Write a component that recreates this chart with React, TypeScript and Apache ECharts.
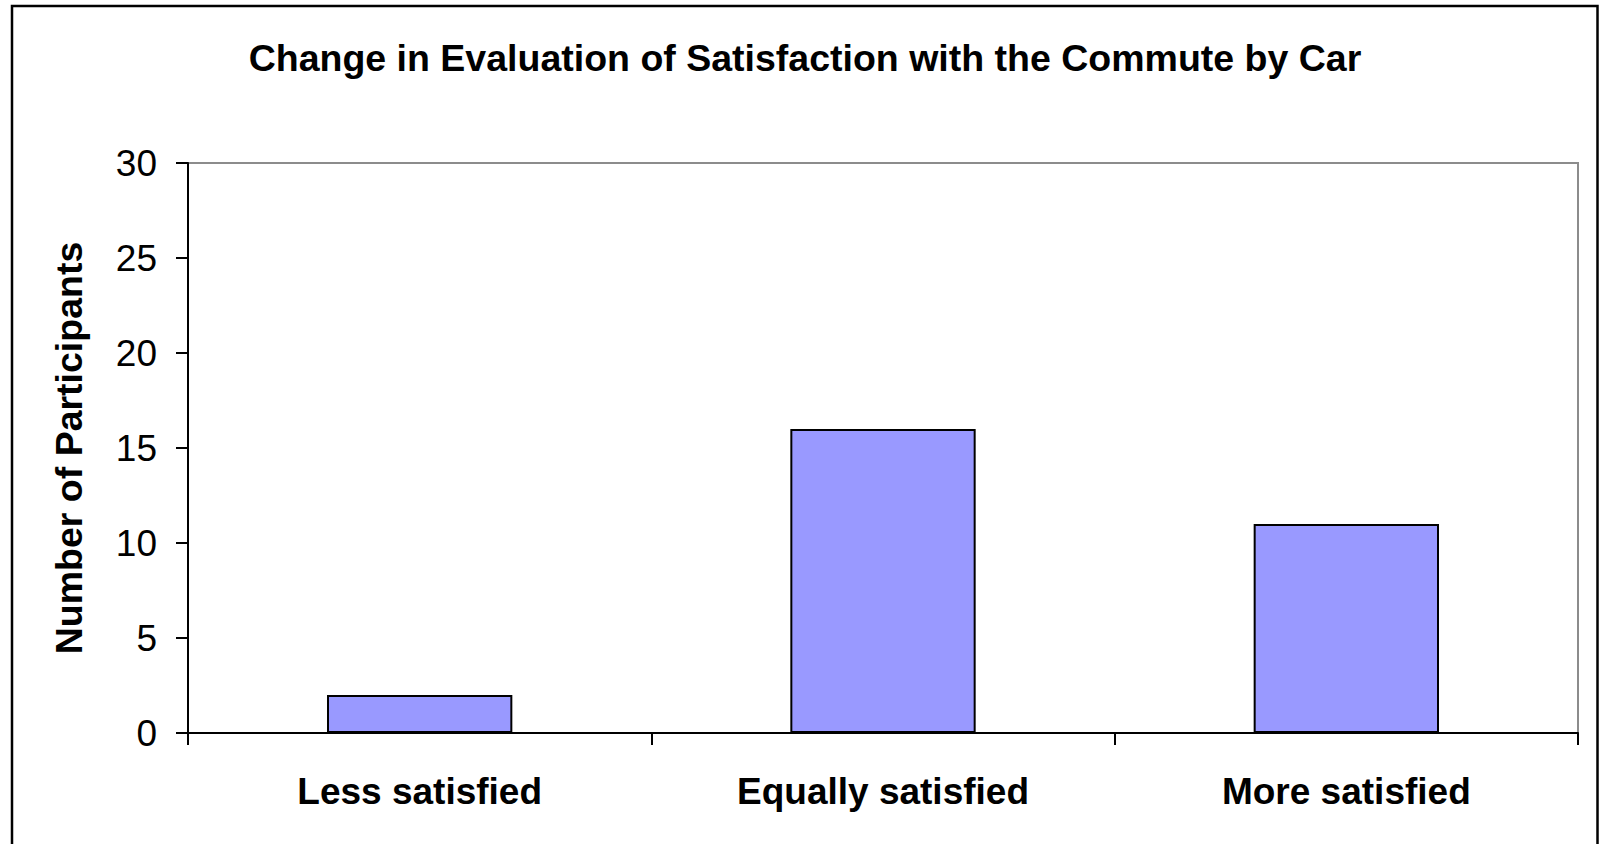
import React, { useEffect, useRef } from "react";
import * as echarts from "echarts";

const titleText = "Change in Evaluation of Satisfaction with the Commute by Car";
const categories = ["Less satisfied", "Equally satisfied", "More satisfied"];
const participants = [2, 16, 11];
const yAxisName = "Number of Participants";
const yMin = 0;
const yMax = 30;
const yStep = 5;

const FONT = "'Liberation Sans', Arial, Helvetica, sans-serif";

export default function App() {
  const ref = useRef<HTMLDivElement>(null);
  useEffect(() => {
    if (!ref.current) return;
    const chart = echarts.init(ref.current, null, { renderer: "svg" });
    chart.setOption({
      animation: false,
      backgroundColor: "#ffffff",
      textStyle: { fontFamily: FONT },
      graphic: [
        {
          type: "rect",
          shape: { x: 12, y: 6, width: 1585.5, height: 900 },
          style: { fill: "none", stroke: "#000", lineWidth: 2.5 },
          silent: true,
        },
        {
          type: "text",
          x: 805,
          y: 58,
          style: {
            text: titleText,
            font: `bold 37.5px ${FONT}`,
            fill: "#000",
            textAlign: "center",
            textVerticalAlign: "middle",
          },
        },
      ],
      grid: {
        left: 188,
        top: 163,
        right: 23,
        bottom: 111,
        show: true,
        borderColor: "#8c8c8c",
        borderWidth: 2,
        backgroundColor: "transparent",
      },
      xAxis: {
        type: "category",
        data: categories,
        boundaryGap: true,
        axisLine: { show: true, lineStyle: { color: "#000", width: 2 } },
        axisTick: {
          show: true,
          length: 12,
          interval: 0,
          alignWithLabel: false,
          lineStyle: { color: "#000", width: 2 },
        },
        axisLabel: {
          color: "#000",
          fontSize: 37,
          fontWeight: "bold",
          fontFamily: FONT,
          margin: 40,
          interval: 0,
        },
        splitLine: { show: false },
      },
      yAxis: {
        type: "value",
        min: yMin,
        max: yMax,
        interval: yStep,
        name: yAxisName,
        nameLocation: "middle",
        nameGap: 100,
        nameRotate: 90,
        nameTextStyle: {
          color: "#000",
          fontSize: 37.5,
          fontWeight: "bold",
          fontFamily: FONT,
        },
        axisLine: { show: true, lineStyle: { color: "#000", width: 2 } },
        axisTick: { show: true, length: 12, lineStyle: { color: "#000", width: 2 } },
        axisLabel: { color: "#000", fontSize: 37, fontFamily: FONT, margin: 31 },
        splitLine: { show: false },
      },
      series: [
        {
          type: "bar",
          data: participants,
          barWidth: "40%",
          itemStyle: { color: "#9999ff", borderColor: "#000", borderWidth: 2 },
        },
      ],
    });
    return () => chart.dispose();
  }, []);
  return (
    <div
      ref={ref}
      style={{ position: "fixed", left: 0, top: 0, width: 1601, height: 844 }}
    />
  );
}
